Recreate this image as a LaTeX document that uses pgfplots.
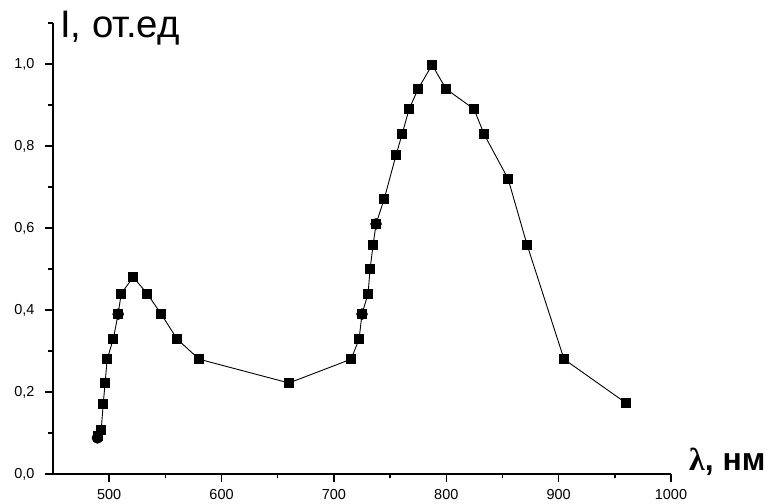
\documentclass[border=0pt]{standalone}
\usepackage{pgfplots}
\pgfplotsset{compat=1.18}
\usepackage{fontspec}
\setmainfont{Liberation Sans}
\newfontfamily\serifb{Liberation Serif}
\begin{document}
\begin{tikzpicture}
\begin{axis}[
  at={(0,0)}, anchor=south west,
  scale only axis, width=618bp, height=451bp,
  xmin=450, xmax=1000, ymin=0, ymax=1.1,
  axis lines*=left,
  axis line style={line width=1.5bp},
  xtick={500,600,700,800,900,1000},
  minor xtick={550,650,750,850,950},
  ytick={0,0.2,0.4,0.6,0.8,1.0},
  minor ytick={0.1,0.3,0.5,0.7,0.9,1.1},
  tick align=outside,
  major tick length=8bp, minor tick length=4.5bp,
  every tick/.style={line width=1.5bp, black},
  minor tick style={line width=1.5bp, black},
  tick label style={font=\fontsize{14.5}{14.5}\selectfont},
  xticklabel style={yshift=-4bp},
  yticklabel style={xshift=-7bp, /pgf/number format/.cd, fixed, fixed zerofill, precision=1, use comma, assume math mode=true},
  /pgf/number format/assume math mode=true,
  /pgf/number format/1000 sep={},
  clip=false,
]
\addplot[black, line width=0.9bp, mark=square*, mark size=4.5bp, mark options={solid, fill=black}] coordinates {
(490.2,0.093) (492.9,0.107) (494.7,0.171) (496.4,0.222) (498.2,0.280) (503.6,0.329)
(508,0.39) (510.7,0.44) (521.4,0.48) (533.8,0.44) (546.3,0.39) (560.5,0.329)
(580,0.28) (660,0.222) (715.3,0.28) (722.4,0.329) (725,0.39) (730.4,0.44)
(732.2,0.50) (734.9,0.559) (737.5,0.61) (744.7,0.67) (755.3,0.778) (760.7,0.829)
(766.9,0.89) (774.9,0.939) (787.4,0.998) (799.8,0.939) (824.7,0.89) (833.6,0.829)
(855,0.72) (871.9,0.559) (904.8,0.28) (960,0.173)
};
\addplot[only marks, mark=*, mark size=5.5bp, black] coordinates {
(489.5,0.088) (508,0.39) (725,0.39) (737.5,0.61)
};
\end{axis}
\node[anchor=base west, inner sep=0pt, font=\fontsize{38.5}{38.5}\selectfont] at (7bp,436bp) {I, от.ед};
\node[anchor=base west, inner sep=0pt, font=\fontsize{32}{32}\selectfont\bfseries] at (636bp,4bp) {{\serifb λ}, нм};
\pgfresetboundingbox
\path[use as bounding box] (-53bp,-30bp) rectangle (720bp,474bp);
\end{tikzpicture}
\end{document}
